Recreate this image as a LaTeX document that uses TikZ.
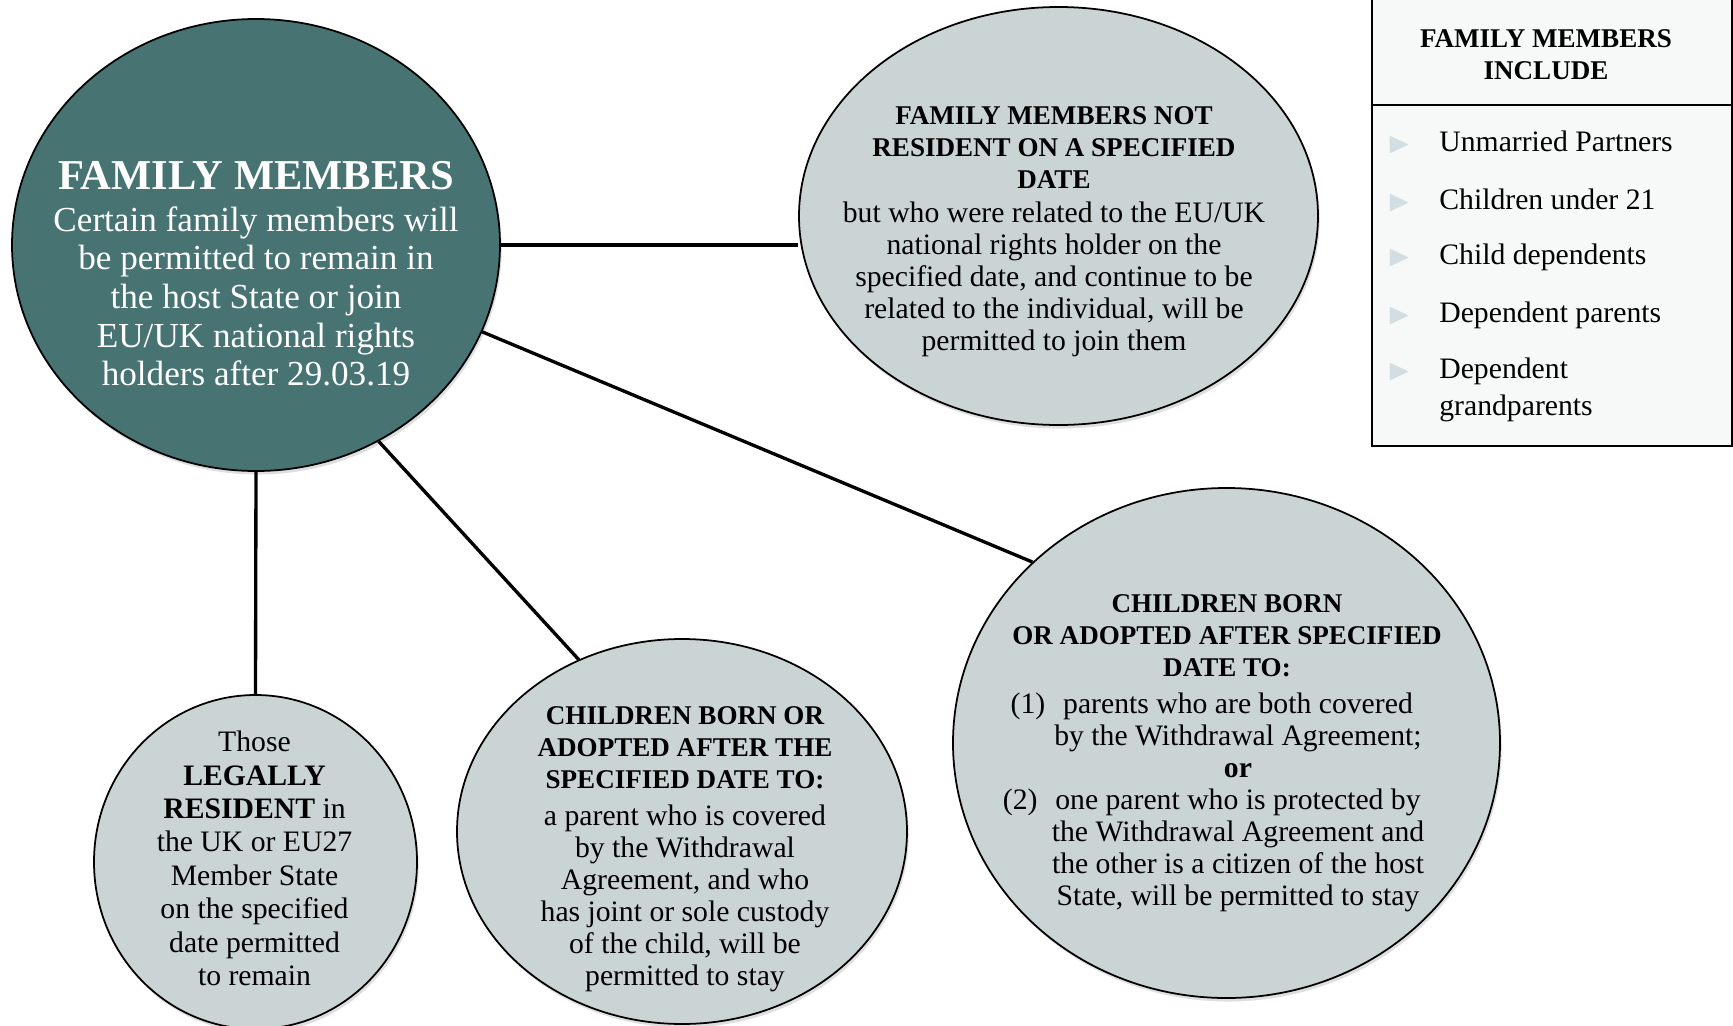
\documentclass[tikz,border=0pt]{standalone}
\usepackage{fontspec}
\setmainfont{Liberation Serif}
\usepackage{amssymb}
\usepackage{tikz}
\usepackage{xcolor}
\usetikzlibrary{positioning,shapes,shadows}
\definecolor{hubteal}{HTML}{477472}
\definecolor{blobgray}{HTML}{CBD4D5}
\definecolor{keypaper}{HTML}{F7F9F9}
\definecolor{keymarkc}{HTML}{D3DEE2}
\newcommand{\hubbig}{\fontsize{24.2}{28}\selectfont\bfseries}
\newcommand{\hubfont}{\fontsize{20}{22}\selectfont}
\newcommand{\blobfont}{\fontsize{16.9}{18.2}\selectfont}
\newcommand{\blobhead}[1]{{\fontsize{15.4}{18.2}\selectfont\bfseries #1}}
\newcommand{\shiftln}{\hspace*{0.44cm}}
\tikzset{
  hub/.style={ellipse,draw=black,fill=hubteal,line width=1pt,inner sep=0pt,
              drop shadow={shadow xshift=1pt,shadow yshift=-2pt,opacity=0.25}},
  blob/.style={ellipse,draw=black,fill=blobgray,line width=1pt,inner sep=0pt,
               drop shadow={shadow xshift=1pt,shadow yshift=-2pt,opacity=0.25}},
  hubtext/.style={align=center,text=white,font=\hubfont,inner sep=0pt},
  blobtext/.style={align=center,font=\blobfont,inner sep=0pt},
  link/.style={line width=1.9pt,draw=black},
  keybox/.style={draw=black,fill=keypaper,line width=1.2pt,inner sep=0pt},
  keyitem/.style={anchor=north west,inner sep=0pt,align=left,
                  font=\fontsize{16.9}{20.8}\selectfont},
  keymark/.style={text=keymarkc,inner sep=0pt,font=\fontsize{17}{17}\selectfont}
}

\begin{document}
\begin{tikzpicture}[x=1cm,y=1cm]
    \path[use as bounding box] (0,0) rectangle (34.66,-20.52);

    % central circle
    \node[hub,minimum width=9.76cm,minimum height=9.04cm] (main) at (5.12,-4.90) {};
    \node[hubtext] (maintxt) at (5.12,-5.48)
      {{\hubbig FAMILY MEMBERS}\\[0.05cm]
       Certain family members will\\
       be permitted to remain in\\
       the host State or join\\
       EU/UK national rights\\
       holders after 29.03.19};

    % outer ellipses
    \node[blob,minimum width=10.38cm,minimum height=8.36cm] (nr) at (21.17,-4.32) {};
    \node[blobtext] (nrtxt) at (21.08,-4.63)
      {\blobhead{FAMILY MEMBERS NOT}\\
       \blobhead{RESIDENT ON A SPECIFIED}\\
       \blobhead{DATE}\\[0.05cm]
       but who were related to the EU/UK\\
       national rights holder on the\\
       specified date, and continue to be\\
       related to the individual, will be\\
       permitted to join them};

    \node[blob,minimum width=10.94cm,minimum height=10.2cm] (brc) at (24.53,-14.86) {};
    \node[blobtext] (brctxt) at (24.54,-15.06)
      {\blobhead{CHILDREN BORN}\\
       \blobhead{OR ADOPTED AFTER SPECIFIED}\\
       \blobhead{DATE TO:}\\[0.1cm]
       \shiftln\llap{(1)\hspace{0.6em}}parents who are both covered\\
       \shiftln by the Withdrawal Agreement;\\
       \shiftln\textbf{or}\\
       \shiftln\llap{(2)\hspace{0.6em}}one parent who is protected by\\
       \shiftln the Withdrawal Agreement and\\
       \shiftln the other is a citizen of the host\\
       \shiftln State, will be permitted to stay};

    \node[blob,minimum width=9.0cm,minimum height=7.7cm] (bm) at (13.64,-16.63) {};
    \node[blobtext] (bmtxt) at (13.70,-16.99)
      {\blobhead{CHILDREN BORN OR}\\
       \blobhead{ADOPTED AFTER THE}\\
       \blobhead{SPECIFIED DATE TO:}\\[0.1cm]
       a parent who is covered\\
       by the Withdrawal\\
       Agreement, and who\\
       has joint or sole custody\\
       of the child, will be\\
       permitted to stay};

    \node[blob,minimum width=6.46cm,minimum height=6.68cm] (bl) at (5.11,-17.24) {};
    \node[blobtext,font=\fontsize{16.9}{19}\selectfont] (bltxt) at (5.09,-17.17)
      {Those\\
       \textbf{LEGALLY}\\
       \textbf{RESIDENT} in\\
       the UK or EU27\\
       Member State\\
       on the specified\\
       date permitted\\
       to remain};

    % connectors
    \draw[link] (main.east) -- (main.east -| nr.west);
    \draw[link] (main.-21) -- (brc.137);
    \draw[link] (main.-58) -- (bm.121);
    \draw[link] (main.south) -- (bl.north);

    % key box
    \node[keybox,minimum width=7.2cm,minimum height=9.2cm,anchor=south west]
      (key) at (27.42,-8.94) {};
    \draw[line width=1.2pt] (key.west |- 0,-2.10) -- (key.east |- 0,-2.10);
    \node[blobtext] (keyhead) at (30.92,-1.09)
      {\blobhead{FAMILY MEMBERS}\\\blobhead{INCLUDE}};
    \foreach \y/\txt [count=\i] in {-2.62/Unmarried Partners,
        -3.78/Children under 21, -4.88/Child dependents,
        -6.03/Dependent parents, -7.15/{Dependent\\grandparents}}{
      \node[keymark] (mark\i) at (27.98,\y-0.28) {$\blacktriangleright$};
      \node[keyitem] (item\i) at (28.78,\y) {\txt};
    }
\end{tikzpicture}
\end{document}
